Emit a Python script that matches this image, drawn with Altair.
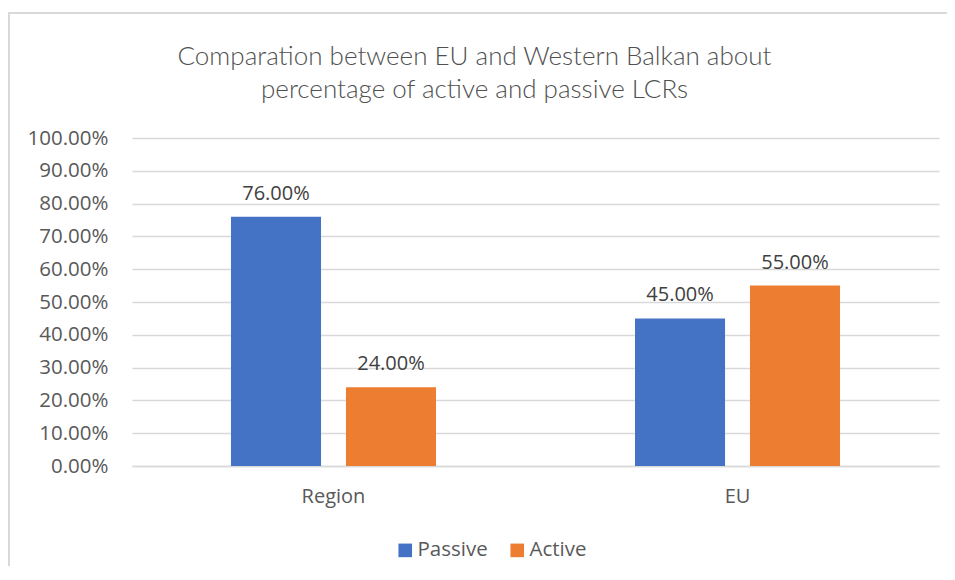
import altair as alt
import pandas as pd

categories = ["Region", "Region", "EU", "EU"]
series = ["Passive", "Active", "Passive", "Active"]
values = [0.76, 0.24, 0.45, 0.55]

cat_order = ["Region", "EU"]
series_order = ["Passive", "Active"]
colors = ["#4472c4", "#ed7d31"]
y_ticks = [0.0, 0.1, 0.2, 0.3, 0.4, 0.5, 0.6, 0.7, 0.8, 0.9, 1.0]

df = pd.DataFrame({"category": categories, "series": series, "value": values})

TXT = "#595959"
FONT = "Open Sans"

x_enc = alt.X("category:N", sort=cat_order, title=None,
              scale=alt.Scale(paddingInner=0.4926, paddingOuter=0.245),
              axis=alt.Axis(labelAngle=0, labelFontSize=20, labelColor=TXT, labelFont=FONT,
                            labelPadding=20, ticks=False, domain=True, domainColor="#d9d9d9",
                            domainWidth=1.5))
xoff_enc = alt.XOffset("series:N", sort=series_order,
                       scale=alt.Scale(paddingInner=0.217, paddingOuter=0))
y_enc = alt.Y("value:Q", title=None,
              scale=alt.Scale(domain=[0, 1], nice=False),
              axis=alt.Axis(values=y_ticks, format=".2%", labelFontSize=20.5, labelColor=TXT,
                            labelFont=FONT, labelPadding=24, ticks=False, domain=False,
                            labelOverlap=False, labelFlush=False,
                            gridColor="#d9d9d9", gridWidth=1.5))
color_enc = alt.Color("series:N", sort=series_order,
                      scale=alt.Scale(domain=series_order, range=colors),
                      legend=alt.Legend(title=None, orient="none", direction="horizontal",
                                        legendX=263, legendY=402, symbolType="square",
                                        symbolSize=185, symbolStrokeWidth=0,
                                        labelFontSize=20.5, labelColor=TXT, labelFont=FONT,
                                        labelOffset=2, columnPadding=19))

base = alt.Chart(df)

bars = base.mark_bar().encode(x=x_enc, xOffset=xoff_enc, y=y_enc, color=color_enc)

labels = base.mark_text(baseline="bottom", dy=-13, fontSize=20, font=FONT, color="#404040").encode(
    x=x_enc, xOffset=xoff_enc, y=y_enc, text=alt.Text("value:Q", format=".2%"))

frame = base.mark_rect(fill=None, stroke="#d9d9d9", strokeWidth=1.5).encode(
    x=alt.value(-123), x2=alt.value(900), y=alt.value(-125), y2=alt.value(500))

chart = alt.layer(frame, bars, labels).properties(
    width=807, height=328,
    autosize=alt.AutoSizeParams(type="none"),
    padding={"left": 124, "top": 130, "right": 8, "bottom": 100},
    title=alt.TitleParams(
        text=["Comparation between EU and Western Balkan about",
              "percentage of active and passive LCRs"],
        fontSize=26, font="Lato", fontWeight=300, color="#505050",
        anchor="middle", frame="bounds", dx=-46, offset=-91, lineHeight=33),
).configure_view(stroke=None)

chart.save("out.html", embed_options={"renderer": "svg", "actions": False})
